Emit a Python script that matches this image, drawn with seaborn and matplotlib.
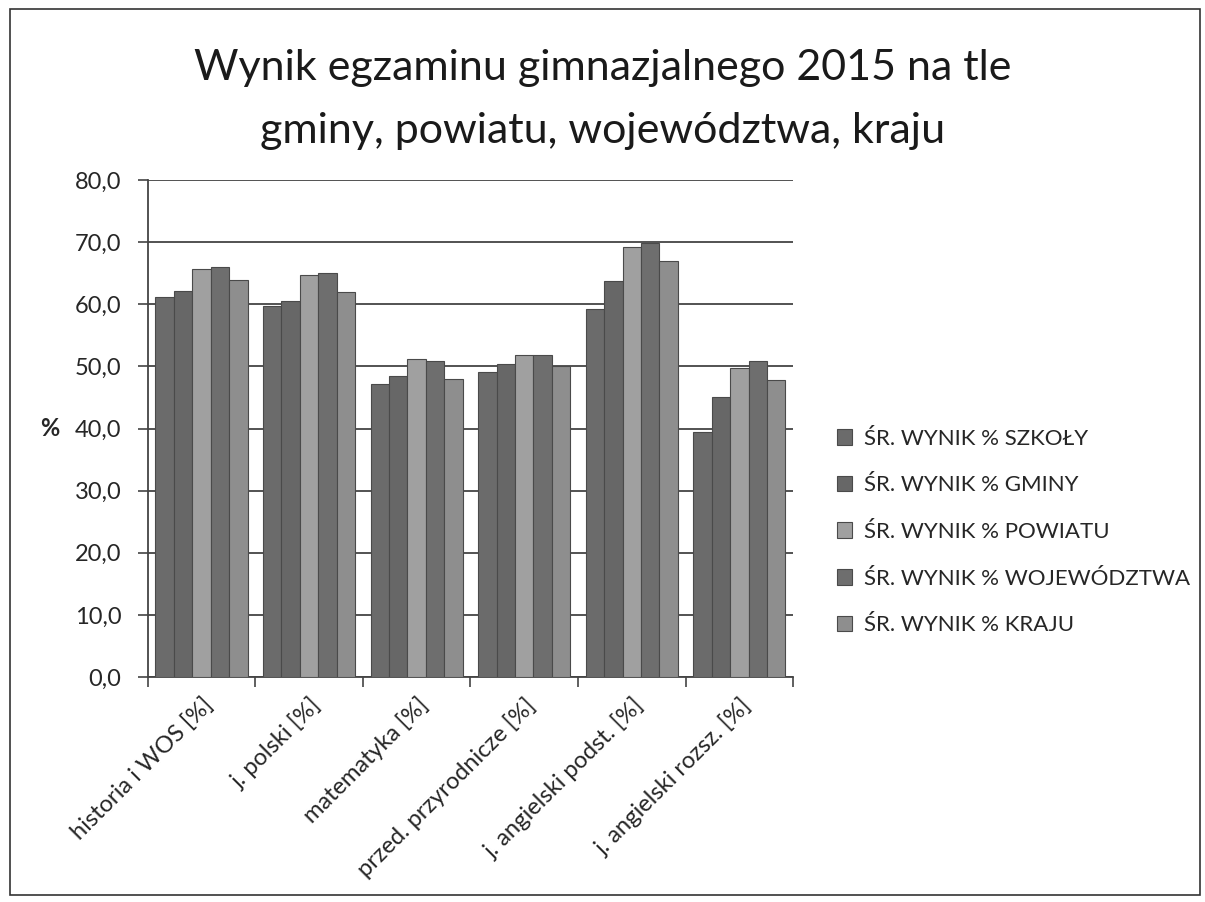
import pandas as pd
import seaborn as sns
import matplotlib.pyplot as plt
from matplotlib.patches import Rectangle
from matplotlib.ticker import FixedLocator

przedmioty = ["historia i WOS [%]", "j. polski [%]", "matematyka [%]",
              "przed. przyrodnicze [%]", "j. angielski podst. [%]", "j. angielski rozsz. [%]"]
serie = ["ŚR. WYNIK % SZKOŁY", "ŚR. WYNIK % GMINY", "ŚR. WYNIK % POWIATU",
         "ŚR. WYNIK % WOJEWÓDZTWA", "ŚR. WYNIK % KRAJU"]
szkoly = [61.2, 59.7, 47.1, 49.1, 59.2, 39.5]
gminy = [62.1, 60.6, 48.5, 50.4, 63.8, 45.1]
powiatu = [65.7, 64.7, 51.2, 51.8, 69.2, 49.8]
wojewodztwa = [66.0, 65.0, 50.9, 51.8, 69.9, 50.8]
kraju = [63.9, 61.9, 47.9, 50.0, 67.0, 47.8]
y_ticks = [0, 10, 20, 30, 40, 50, 60, 70, 80]

wartosci = [szkoly, gminy, powiatu, wojewodztwa, kraju]
rows = []
for s, vals in zip(serie, wartosci):
    for p, v in zip(przedmioty, vals):
        rows.append({"przedmiot": p, "seria": s, "wynik": v})
df = pd.DataFrame(rows)

sns.set_style("white")
plt.rcParams['font.family'] = ['Lato', 'DejaVu Sans']

kolory = ["#6b6b6b", "#676767", "#a0a0a0", "#6e6e6e", "#8e8e8e"]

fig = plt.figure(figsize=(12.05, 9.02), dpi=100)
ax = fig.add_axes([0.1228, 0.2494, 0.5353, 0.5510])

sns.barplot(data=df, x="przedmiot", y="wynik", hue="seria", palette=kolory,
            width=0.86, gap=0, edgecolor="#4a4a4a", linewidth=0.8, ax=ax, zorder=3)

ax.set_ylim(0, 80)
ax.set_xlim(-0.5, len(przedmioty) - 0.5)
ax.set_yticks(y_ticks)
ax.set_yticklabels([f"{t:.1f}".replace(".", ",") for t in y_ticks], fontsize=17)
ax.yaxis.grid(True, color="#444444", linewidth=1.3, zorder=0)
ax.set_axisbelow(True)

ax.set_xticks(range(len(przedmioty)))
ax.set_xticklabels(przedmioty, rotation=45, ha="right", rotation_mode="anchor", fontsize=17)
ax.tick_params(axis="x", which="major", length=0, pad=12)
ax.xaxis.set_minor_locator(FixedLocator([i - 0.5 for i in range(len(przedmioty) + 1)]))
ax.tick_params(axis="x", which="minor", length=7, width=1.2, color="#444444", bottom=True)
ax.tick_params(axis="y", length=7, width=1.2, color="#444444", left=True, pad=12)

for side in ["top", "right"]:
    ax.spines[side].set_visible(False)
for side in ["left", "bottom"]:
    ax.spines[side].set_color("#444444")
    ax.spines[side].set_linewidth(1.3)

ax.set_xlabel("")
ax.set_ylabel("%", rotation=0, fontsize=17, fontweight="bold", labelpad=18, va="center")

handles, labels = ax.get_legend_handles_labels()
ax.legend(handles, labels, loc="center left", bbox_to_anchor=(1.037, 0.292), frameon=False,
          fontsize=16, handlelength=0.7, handleheight=0.7, handletextpad=0.5, labelspacing=1.2)

fig.text(0.5, 0.925, "Wynik egzaminu gimnazjalnego 2015 na tle",
         ha="center", va="center", fontsize=31, color="#1a1a1a")
fig.text(0.5, 0.855, "gminy, powiatu, województwa, kraju",
         ha="center", va="center", fontsize=31, color="#1a1a1a")

fig.patches.append(Rectangle((0.008, 0.008), 0.988, 0.982, transform=fig.transFigure,
                             fill=False, edgecolor="#333333", linewidth=1.2))

fig.savefig("out.png", dpi=100)
